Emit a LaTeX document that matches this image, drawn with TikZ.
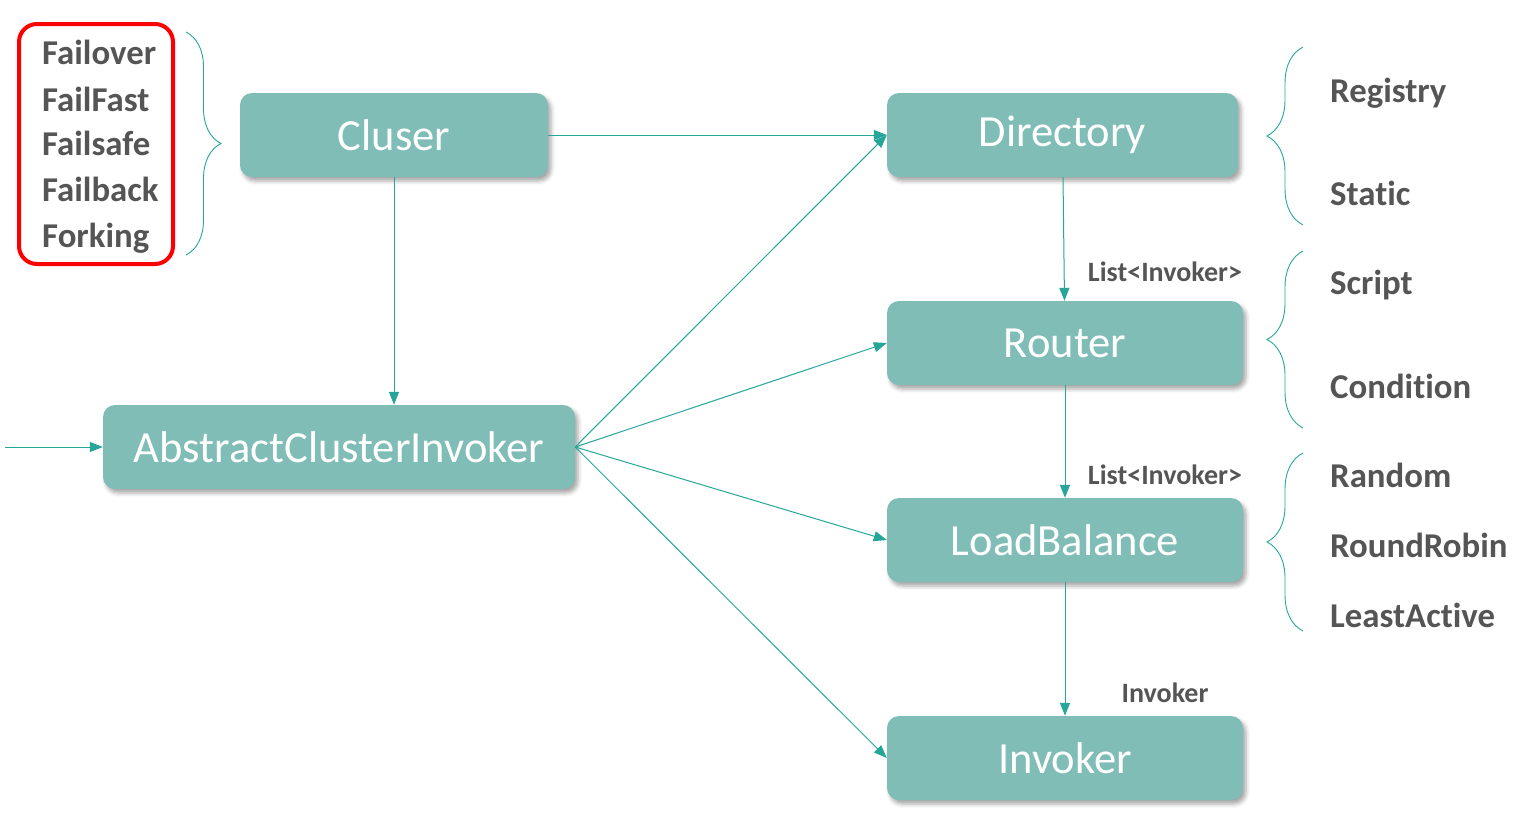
\documentclass[tikz,border=0pt]{standalone}
\usepackage{fontspec}
\setmainfont[Ligatures=NoCommon]{Carlito}
\usetikzlibrary{arrows.meta,shadows.blur,decorations.pathreplacing,positioning}

\definecolor{boxfill}{HTML}{80BDB6}
\definecolor{linkteal}{HTML}{26A699}
\definecolor{labelgray}{HTML}{555555}

\begin{document}
\begin{tikzpicture}[x=1pt,y=-1pt,->,>={Triangle[length=13pt,width=10pt]},
    box/.style={rectangle,rounded corners=12pt,fill=boxfill,text=white,
        font=\fontsize{44.5}{44.5}\selectfont,minimum height=84pt,inner sep=0pt,
        blur shadow={shadow xshift=3pt,shadow yshift=-4pt,shadow blur radius=4pt,shadow opacity=35}},
    side label/.style={font=\bfseries\fontsize{34.8}{34.8}\selectfont,text=labelgray,anchor=base west,inner sep=0pt},
    edge label/.style={font=\bfseries\fontsize{28}{28}\selectfont,text=labelgray,anchor=base,inner sep=0pt},
    link/.style={color=linkteal,line width=1pt},
    brace/.style={-,draw=linkteal,line width=0.9pt,decorate,decoration={brace,amplitude=#1}}]

        \useasboundingbox (0,0) rectangle (1524,822);

        % Define vertices
        \node[box,minimum width=308pt] (cluster) at (394,135) {Cluser};
        \node[box,minimum width=351pt] (directory) at (1062.5,135) {Directory};
        \node[box,minimum width=356pt] (router) at (1065,343) {Router};
        \node[box,minimum width=356pt] (loadbalance) at (1065,540) {LoadBalance};
        \node[box,minimum width=356pt] (invoker) at (1065,758) {Invoker};
        \node[box,minimum width=472pt] (aci) at (339,447) {AbstractClusterInvoker};
        \coordinate (caller) at (5,447);

        % Strategies
        \node[side label] (failover) at (42,64) {Failover};
        \node[side label] (failfast) at (42,111) {FailFast};
        \node[side label] (failsafe) at (42,155) {Failsafe};
        \node[side label] (failback) at (42,201) {Failback};
        \node[side label] (forking) at (42,247) {Forking};
        \draw[-,draw=red,line width=4pt,rounded corners=18pt] (19,24) rectangle (173,264);

        \node[side label] (registry) at (1330,102) {Registry};
        \node[side label] (static) at (1330,205) {Static};
        \node[side label] (script) at (1330,294) {Script};
        \node[side label] (condition) at (1330,398) {Condition};
        \node[side label] (random) at (1330,487) {Random};
        \node[side label] (roundrobin) at (1330,557) {RoundRobin};
        \node[side label] (leastactive) at (1330,627) {LeastActive};

        % Braces
        \draw[brace=35pt] (186,32) -- (186,255);
        \draw[brace=36pt] (1303,225) -- (1303,47);
        \draw[brace=36pt] (1303,428) -- (1303,251);
        \draw[brace=36pt] (1303,631) -- (1303,453);

        % Edge labels
        \node[edge label] (list1) at (1165,281) {List<Invoker>};
        \node[edge label] (list2) at (1165,484) {List<Invoker>};
        \node[edge label] (single) at (1165,702) {Invoker};

        % Draw edges
        \path[link]
            (caller) edge (aci)
            (cluster) edge (directory)
            (cluster.south) edge (cluster.south |- aci.north)
            (aci.east) edge (directory.west)
            (aci.east) edge (router.west)
            (aci.east) edge (loadbalance.west)
            (aci.east) edge (invoker.west)
            (directory) edge (router)
            (router) edge (loadbalance)
            (loadbalance) edge (invoker);

\end{tikzpicture}
\end{document}
